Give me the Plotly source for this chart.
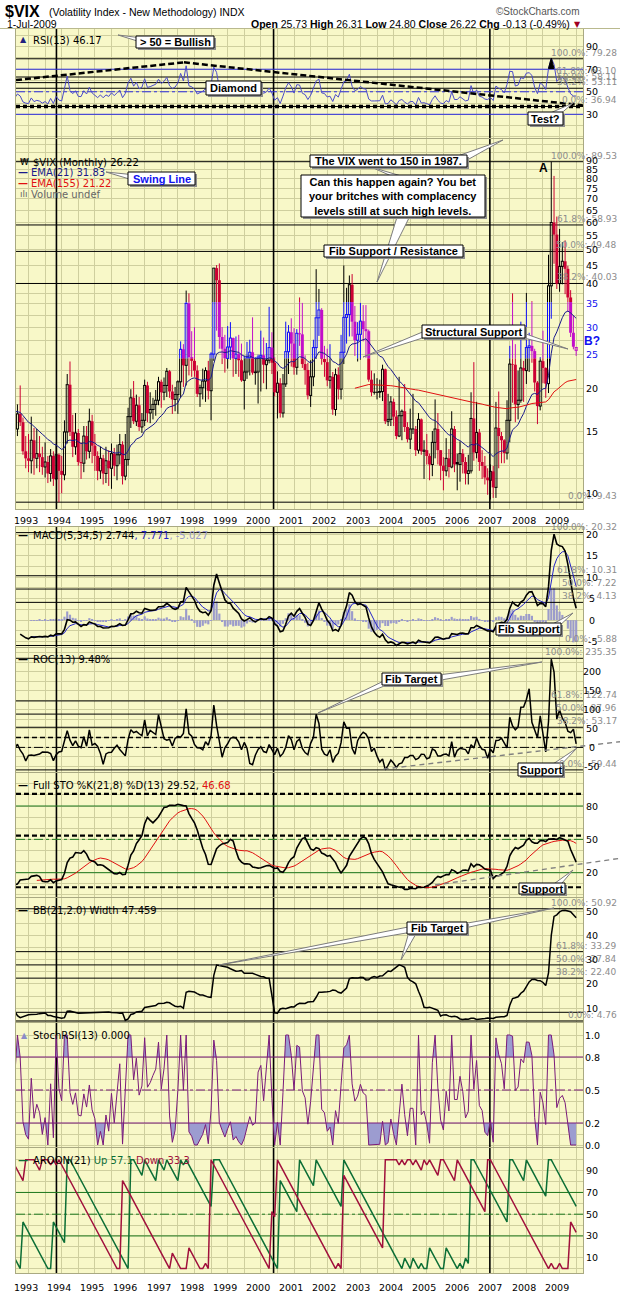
import math
import plotly.graph_objects as go

W, H = 620, 1297

# ---------------------------------------------------------------------------
# Monthly VIX before the visible window (Jan 1990 - Aug 1992); these only feed
# the look-back of the indicators.
prime_close = [25.4, 21.9, 19.5, 21.6, 17.1, 17.4, 23.4, 29.9, 30.0, 27.7, 22.5, 23.0,
               20.1, 17.6, 17.3, 17.9, 15.4, 18.3, 15.7, 15.6, 17.3, 16.0, 19.6, 15.7,
               17.7, 16.0, 16.1, 15.4, 13.6, 14.1, 13.1, 15.3]
prime_high = [27.3, 26.0, 23.0, 24.5, 21.0, 19.0, 23.5, 36.5, 33.0, 38.0, 28.0, 25.0,
              36.2, 21.5, 19.5, 19.8, 18.5, 20.0, 19.0, 18.5, 19.0, 18.0, 22.5, 21.5,
              19.5, 18.0, 17.5, 18.5, 16.0, 15.5, 15.0, 16.5]
prime_low = [17.2, 20.0, 18.5, 18.5, 16.5, 15.5, 16.0, 21.0, 25.0, 25.0, 21.5, 20.5,
             19.5, 16.5, 15.5, 15.5, 14.5, 14.8, 15.0, 13.5, 14.5, 14.5, 15.5, 14.5,
             15.0, 15.0, 14.5, 14.0, 13.0, 12.5, 11.8, 13.0]

# Displayed monthly bars, Sep 1992 - Jul 2009
vix_open = [15.3, 16.9, 16.0, 13.2,
            12.6, 12.4, 14.2, 12.6, 13.0, 12.7, 11.9, 12.3, 11.4, 12.8, 11.0, 12.9,
            11.6, 11.3, 15.0, 20.5, 15.0, 13.6, 14.9, 12.3, 12.2, 14.6, 13.2, 16.1,
            13.7, 12.8, 11.6, 12.6, 11.4, 12.4, 11.8, 13.0, 12.0, 12.9, 13.8, 11.2,
            12.5, 16.6, 18.8, 16.1, 17.9, 15.5, 16.2, 20.4, 17.0, 17.4, 18.0, 18.5,
            20.9, 19.5, 20.4, 22.4, 19.6, 18.6, 19.2, 20.9, 25.9, 23.3, 35.1, 24.6,
            24.0, 22.5, 19.3, 20.1, 21.0, 22.5, 19.7, 25.1, 44.3, 40.9, 28.1, 26.0,
            24.4, 26.3, 27.9, 24.4, 25.1, 24.1, 21.1, 22.3, 24.5, 25.4, 22.2, 22.3,
            24.6, 24.9, 23.4, 24.1, 26.2, 23.7, 19.5, 20.7, 17.0, 20.6, 25.5, 29.0,
            26.9, 23.0, 28.8, 28.6, 23.5, 22.6, 19.1, 21.6, 26.2, 31.9, 33.6, 24.3,
            23.8, 21.1, 21.6, 17.4, 21.9, 19.9, 25.4, 32.0, 32.6, 39.7, 31.1, 27.5,
            28.6, 31.2, 29.6, 29.2, 21.2, 19.5, 19.5, 19.5, 19.6, 22.7, 16.1, 16.3,
            18.3, 16.6, 14.6, 16.7, 17.2, 15.5, 14.3, 15.3, 15.3, 13.3, 16.3, 13.2,
            13.3, 12.8, 12.1, 14.0, 15.3, 13.3, 12.0, 11.6, 12.6, 11.9, 15.3, 12.3,
            12.1, 13.0, 12.3, 11.4, 11.6, 16.4, 13.1, 14.95, 12.3, 11.98, 11.1, 10.9,
            11.56, 10.4, 15.4, 14.6, 14.2, 13.05, 16.2, 23.5, 23.4, 18.0, 18.5, 22.9,
            22.5, 26.2, 26.5, 25.6, 20.8, 17.8, 23.95, 22.9, 20.65, 39.4, 59.9, 55.3,
            40.0, 44.8, 46.35, 44.1, 36.5, 28.9, 25.73]
vix_high = [18.0, 20.4, 16.5, 14.6,
            14.8, 16.6, 15.4, 15.3, 14.6, 13.6, 14.0, 12.8, 13.4, 13.2, 13.9, 13.0,
            12.8, 16.2, 22.0, 23.9, 16.8, 17.0, 15.3, 14.0, 15.6, 15.6, 17.5, 16.8,
            14.8, 13.2, 13.6, 12.9, 13.6, 13.3, 13.9, 13.5, 13.8, 14.8, 14.1, 14.8,
            17.6, 19.9, 21.0, 19.2, 18.9, 17.0, 21.2, 20.9, 19.5, 18.8, 19.8, 21.6,
            21.2, 21.5, 22.9, 22.6, 20.5, 20.2, 21.1, 27.3, 26.8, 38.2, 37.5, 29.2,
            30.0, 23.3, 20.5, 22.8, 23.0, 24.0, 25.4, 44.3, 45.2, 45.7, 30.0, 28.5,
            30.2, 31.0, 28.0, 28.2, 28.5, 26.9, 24.8, 27.2, 27.6, 32.0, 24.6, 25.0,
            29.3, 28.0, 27.0, 34.3, 29.0, 24.6, 22.4, 21.4, 22.0, 31.1, 30.4, 31.8,
            29.8, 29.6, 36.5, 35.2, 24.9, 23.7, 24.1, 27.6, 44.0, 38.6, 34.0, 26.5,
            26.0, 26.8, 22.3, 22.8, 23.0, 28.5, 45.1, 38.9, 42.2, 42.6, 34.5, 31.0,
            35.2, 34.7, 34.7, 29.5, 22.5, 22.1, 21.4, 21.2, 23.4, 22.8, 19.3, 19.0,
            18.7, 17.3, 21.6, 17.4, 20.6, 16.0, 17.5, 19.3, 15.6, 17.0, 16.4, 14.2,
            14.8, 13.0, 15.1, 18.6, 17.0, 13.3, 12.7, 14.4, 13.4, 17.2, 15.6, 13.0,
            14.1, 13.4, 12.7, 12.9, 19.5, 23.8, 18.3, 15.3, 13.3, 12.8, 11.8, 12.1,
            12.0, 18.3, 19.6, 15.0, 14.3, 18.5, 26.5, 37.5, 26.8, 22.5, 31.1, 24.0,
            37.6, 28.9, 35.6, 26.0, 21.0, 24.6, 29.3, 23.0, 48.4, 89.53, 81.5, 62.3,
            57.4, 52.6, 53.25, 45.0, 38.3, 32.4, 26.31]
vix_low = [14.6, 15.6, 12.9, 11.8,
           11.5, 11.4, 11.3, 11.8, 11.5, 11.3, 11.1, 10.7, 10.8, 10.5, 10.9, 9.43,
           10.0, 10.9, 13.9, 14.6, 12.7, 12.9, 12.0, 11.0, 11.5, 12.5, 12.6, 12.2,
           11.6, 10.9, 11.0, 10.6, 10.7, 10.5, 10.3, 11.2, 10.9, 12.1, 10.6, 10.9,
           12.0, 15.4, 15.8, 15.6, 15.1, 14.9, 15.6, 16.0, 15.9, 16.3, 16.7, 17.9,
           17.6, 18.5, 18.9, 18.8, 16.9, 17.2, 16.9, 18.8, 20.2, 20.4, 21.8, 21.6,
           21.6, 18.9, 17.7, 18.6, 18.3, 18.6, 16.2, 24.0, 29.3, 26.0, 23.5, 22.2,
           22.8, 24.2, 21.6, 22.0, 21.6, 20.9, 17.4, 21.3, 21.8, 21.9, 20.5, 18.1,
           19.6, 20.7, 19.9, 23.6, 22.0, 19.0, 16.4, 16.5, 16.5, 20.2, 22.0, 23.1,
           21.9, 21.9, 26.5, 22.9, 20.5, 18.6, 17.7, 20.3, 24.3, 28.3, 23.4, 21.6,
           20.3, 20.0, 16.8, 16.7, 18.6, 18.6, 23.5, 26.9, 28.2, 28.2, 24.8, 23.9,
           24.2, 27.3, 24.5, 20.9, 19.0, 19.2, 18.6, 18.8, 18.4, 15.8, 15.6, 15.6,
           15.6, 14.3, 14.5, 14.2, 15.0, 14.0, 13.4, 14.8, 12.8, 13.0, 12.9, 11.0,
           12.1, 10.9, 11.2, 12.6, 12.1, 10.9, 10.2, 11.2, 11.1, 11.8, 11.5, 10.2,
           10.8, 11.4, 10.6, 10.6, 11.4, 12.4, 12.6, 11.6, 11.0, 10.6, 9.9, 9.6,
           9.7, 9.7, 11.8, 12.2, 12.2, 12.5, 14.0, 18.2, 16.0, 16.3, 18.2, 18.3,
           20.6, 22.3, 23.7, 19.6, 15.8, 17.3, 20.7, 18.8, 19.4, 31.7, 45.6, 38.6,
           37.9, 39.8, 37.3, 33.2, 28.1, 25.9, 24.80]
vix_close = [16.9, 16.0, 13.2, 12.6,
             12.4, 14.2, 12.6, 13.0, 12.7, 11.9, 12.3, 11.4, 12.8, 11.0, 12.9, 11.6,
             11.3, 15.0, 20.5, 15.0, 13.6, 14.9, 12.3, 12.2, 14.6, 13.2, 16.1, 13.7,
             12.8, 11.6, 12.6, 11.4, 12.4, 11.8, 13.0, 12.0, 12.9, 13.8, 11.2, 12.5,
             16.6, 18.8, 16.1, 17.9, 15.5, 16.2, 20.4, 17.0, 17.4, 18.0, 18.5, 20.9,
             19.5, 20.4, 22.4, 19.6, 18.6, 19.2, 20.9, 25.9, 23.3, 35.1, 24.6, 24.0,
             22.5, 19.3, 20.1, 21.0, 22.5, 19.7, 25.1, 44.3, 40.9, 28.1, 26.0, 24.4,
             26.3, 27.9, 24.4, 25.1, 24.1, 21.1, 22.3, 24.5, 25.4, 22.2, 22.3, 24.6,
             24.9, 23.4, 24.1, 26.2, 23.7, 19.5, 20.7, 17.0, 20.6, 25.5, 29.0, 26.9,
             23.0, 28.8, 28.6, 23.5, 22.6, 19.1, 21.6, 26.2, 31.9, 33.6, 24.3, 23.8,
             21.1, 21.6, 17.4, 21.9, 19.9, 25.4, 32.0, 32.6, 39.7, 31.1, 27.5, 28.6,
             31.2, 29.6, 29.2, 21.2, 19.5, 19.5, 19.5, 19.6, 22.7, 16.1, 16.3, 18.3,
             16.6, 14.6, 16.7, 17.2, 15.5, 14.3, 15.3, 15.3, 13.3, 16.3, 13.2, 13.3,
             12.8, 12.1, 14.0, 15.3, 13.3, 12.0, 11.6, 12.6, 11.9, 15.3, 12.1, 12.1,
             13.0, 12.3, 11.4, 11.6, 16.4, 13.1, 14.95, 12.3, 11.98, 11.1, 10.9, 11.56,
             10.4, 15.4, 14.6, 14.2, 13.05, 16.2, 23.5, 23.4, 18.0, 18.5, 22.9, 22.5,
             26.2, 26.5, 25.6, 20.8, 17.8, 23.95, 22.9, 20.65, 39.4, 59.9, 55.3, 40.0,
             44.8, 46.35, 44.1, 36.5, 28.9, 26.35, 26.22]
FIRST_BAR = -4          # Sep 1992, in months counted from Jan 1993

years = list(range(1993, 2010))
band_low, band_high = 24.4, 35.4          # highlighted "structural support" zone

fib_main = (9.43, 89.53)
fib_rsi = (36.938, 79.276)
fib_macd = (-5.88, 20.32)
fib_roc = (-59.44, 235.352)
fib_bb = (4.764, 50.922)
fib_ratios = [1.0, 0.618, 0.5, 0.382, 0.0]

event_months = [10.1, 88.6, 166.8]        # vertical marker lines

# ---------------------------------------------------------------------------
closes = prime_close + vix_close
highs = prime_high + vix_high
lows = prime_low + vix_low
N = len(closes)
months = [i - len(prime_close) + FIRST_BAR for i in range(N)]


def sma(vals, n):
    out = [None] * len(vals)
    for i in range(len(vals)):
        win = vals[i - n + 1:i + 1] if i >= n - 1 else []
        if len(win) == n and all(v is not None for v in win):
            out[i] = sum(win) / n
    return out


def ema(vals, n):
    out = [None] * len(vals)
    k = 2.0 / (n + 1)
    run, prev = [], None
    for i, v in enumerate(vals):
        if v is None:
            continue
        if prev is None:
            run.append(v)
            if len(run) == n:
                prev = sum(run) / n
                out[i] = prev
        else:
            prev = prev + k * (v - prev)
            out[i] = prev
    return out


def rsi(c, n):
    out = [None] * len(c)
    g_run, l_run = [], []
    ag = al = None
    for i in range(1, len(c)):
        d = c[i] - c[i - 1]
        g, l = max(d, 0.0), max(-d, 0.0)
        if ag is None:
            g_run.append(g)
            l_run.append(l)
            if len(g_run) == n:
                ag, al = sum(g_run) / n, sum(l_run) / n
            else:
                continue
        else:
            ag = (ag * (n - 1) + g) / n
            al = (al * (n - 1) + l) / n
        out[i] = 100.0 if al == 0 else 100 - 100 / (1 + ag / al)
    return out


ema21 = ema(closes, 21)
ema155 = ema(closes, 155)
rsi13 = rsi(closes, 13)

srsi = [None] * N
for i in range(N):
    win = rsi13[i - 12:i + 1] if i >= 12 else []
    if len(win) == 13 and all(v is not None for v in win):
        lo, hi = min(win), max(win)
        srsi[i] = 0.0 if hi == lo else (rsi13[i] - lo) / (hi - lo)

e5, e34 = ema(closes, 5), ema(closes, 34)
macd = [a - b if (a is not None and b is not None) else None for a, b in zip(e5, e34)]
macd_sig = ema(macd, 5)
macd_hist = [a - b if (a is not None and b is not None) else None for a, b in zip(macd, macd_sig)]

roc = [None] * N
for i in range(13, N):
    roc[i] = (closes[i] / closes[i - 13] - 1) * 100

fast_k = [None] * N
for i in range(20, N):
    hh, ll = max(highs[i - 20:i + 1]), min(lows[i - 20:i + 1])
    fast_k[i] = 0.0 if hh == ll else (closes[i] - ll) / (hh - ll) * 100
full_k = sma(fast_k, 8)
full_d = sma(full_k, 13)

# band width in points: upper band minus lower band
bbw = [None] * N
for i in range(20, N):
    win = closes[i - 20:i + 1]
    mu = sum(win) / 21
    sd = math.sqrt(sum((v - mu) ** 2 for v in win) / 21)
    bbw[i] = 4 * sd

ar_up, ar_dn = [None] * N, [None] * N
for i in range(21, N):
    hw = highs[i - 21:i + 1]
    lw = lows[i - 21:i + 1]
    ih = max(j for j in range(22) if hw[j] == max(hw))
    il = max(j for j in range(22) if lw[j] == min(lw))
    ar_up[i] = ih / 21 * 100
    ar_dn[i] = il / 21 * 100

# ---------------------------------------------------------------------------
BG = "#F8F8C8"
GRID = "#CFCF9E"
FRAME = "#A9A982"
BAND = "#F6F632"
FONT = "DejaVu Sans"
SANS = "Liberation Sans"

PX_PER_MONTH = 2.766
X_LEFT, X_RIGHT = 16, 583
M0_PX = 28.5
x_range = [(X_LEFT - M0_PX) / PX_PER_MONTH, (X_RIGHT - M0_PX) / PX_PER_MONTH]

# panel: top, bottom, two calibration (value, pixel) pairs, log scale
panels = {
    1: (29, 138, (90, 46.7), (30, 114.3), False),
    2: (139, 509, (10, 493.3), (89.53, 161.7), True),
    3: (527, 647, (20, 534.0), (-5, 641.7), False),
    4: (648, 772, (235.35, 658.3), (0, 747.4), False),
    5: (773, 897, (80, 806.0), (20, 872.7), False),
    6: (898, 1022, (50, 911.0), (10, 1008.3), False),
    7: (1023, 1147, (1.0, 1035.0), (0.0, 1145.0), False),
    8: (1148, 1273, (90, 1170.7), (10, 1257.7), False),
}


def X(p):
    return p / W


def Y(p):
    return 1 - p / H


def yv(k, v):
    return math.log10(v) if panels[k][4] else v


layout = dict(width=W, height=H, margin=dict(l=0, r=0, t=0, b=0),
              paper_bgcolor="white", plot_bgcolor=BG, showlegend=False,
              hovermode=False)

grid_vals = {
    1: list(range(10, 101, 10)),
    2: [9, 10, 11, 12, 13, 14, 15, 16, 17, 18, 19, 20, 22.5, 25, 27.5, 30, 32.5, 35,
        37.5, 40, 45, 50, 55, 60, 65, 70, 75, 80, 85, 90, 95, 100],
    3: [v * 2.5 for v in range(-2, 9)],
    4: list(range(-50, 251, 25)),
    5: list(range(0, 101, 10)),
    6: list(range(5, 56, 5)),
    7: [v / 10 for v in range(0, 11)],
    8: list(range(0, 101, 10)),
}

y_span = {}
for k, (top, bot, (v1, p1), (v2, p2), is_log) in panels.items():
    f1, f2 = (math.log10(v1), math.log10(v2)) if is_log else (v1, v2)
    slope = (f1 - f2) / (p1 - p2)
    r_top = f1 + (top - p1) * slope
    r_bot = f1 + (bot - p1) * slope
    y_span[k] = (10 ** r_bot, 10 ** r_top) if is_log else (r_bot, r_top)
    sfx = "" if k == 1 else str(k)
    layout["xaxis" + sfx] = dict(domain=[X(X_LEFT), X(X_RIGHT)], range=x_range,
                                 anchor="y" + sfx, tickmode="array",
                                 tickvals=list(range(-6, 204, 6)), showticklabels=False,
                                 ticks="", showgrid=True, gridcolor=GRID, gridwidth=1,
                                 zeroline=False, showline=True, mirror=True,
                                 linecolor=FRAME, linewidth=1, fixedrange=True)
    layout["yaxis" + sfx] = dict(domain=[Y(bot), Y(top)], range=[r_bot, r_top],
                                 type="log" if is_log else "linear",
                                 anchor="x" + sfx, tickmode="array", tickvals=grid_vals[k],
                                 showticklabels=False, ticks="", showgrid=True,
                                 gridcolor=GRID, gridwidth=1, zeroline=False,
                                 showline=True, mirror=True, linecolor=FRAME,
                                 linewidth=1, fixedrange=True)

shapes, annotations, wedges, boxes = [], [], [], []
traces = []


def ax(k):
    return ("x", "y") if k == 1 else ("x%d" % k, "y%d" % k)


# event marker lines first, so every other mark sits on top of them
for k in panels:
    xa, ya = ax(k)
    ex, ey = [], []
    for m in event_months:
        ex += [m, m, None]
        ey += [y_span[k][0], y_span[k][1], None]
    traces.append(go.Scatter(x=ex, y=ey, mode="lines", xaxis=xa, yaxis=ya,
                             line=dict(color="black", width=1.6)))


def hline(k, v, color="black", width=1, dash="solid"):
    xa, ya = ax(k)
    traces.append(go.Scatter(x=x_range, y=[v, v], mode="lines", xaxis=xa, yaxis=ya,
                             line=dict(color=color, width=width, dash=dash)))


def text(x, y, s, size=10, color="black", anchor="left", family=FONT, **kw):
    annotations.append(dict(x=X(x), y=Y(y), xref="paper", yref="paper", text=s,
                            showarrow=False, xanchor=anchor, yanchor="middle",
                            font=dict(family=family, size=size, color=color), **kw))


def axis_label(k, v, s=None, color="black"):
    xa, ya = ax(k)
    annotations.append(dict(x=X(592), y=yv(k, v), xref="paper", yref=ya,
                            text=s if s is not None else str(v), showarrow=False,
                            xanchor="center", yanchor="middle",
                            font=dict(family=FONT, size=9.5, color=color)))


def fib(k, lo, hi):
    xa, ya = ax(k)
    for r in fib_ratios:
        lvl = lo + r * (hi - lo)
        hline(k, lvl, "black", 1)
        annotations.append(dict(x=X(619), y=yv(k, lvl), xref="paper", yref=ya,
                                text="%.1f%%: %.2f" % (r * 100, lvl), showarrow=False,
                                xanchor="right", yanchor="middle", yshift=6,
                                font=dict(family=FONT, size=9, color="#8C8C8C")))


def line_trace(k, ys, color, width=1.0, dash="solid"):
    xa, ya = ax(k)
    pts = [(m, v) for m, v in zip(months, ys) if v is not None]
    traces.append(go.Scatter(x=[p[0] for p in pts], y=[p[1] for p in pts],
                             mode="lines", xaxis=xa, yaxis=ya,
                             line=dict(color=color, width=width, dash=dash)))


def callout(box, lines, tips, color="black", size=11):
    x0, y0, x1, y1 = box
    for b0, b1, tip in tips:
        path = "M %f,%f L %f,%f L %f,%f Z" % (X(b0[0]), Y(b0[1]), X(tip[0]), Y(tip[1]),
                                              X(b1[0]), Y(b1[1]))
        wedges.append(dict(type="path", xref="paper", yref="paper", path=path,
                           fillcolor="white", layer="above",
                           line=dict(color="#7C7C7C", width=1)))
    boxes.append(dict(type="rect", xref="paper", yref="paper", x0=X(x0 + 2), x1=X(x1 + 2),
                      y0=Y(y1 + 2), y1=Y(y0 + 2), fillcolor="#8E8E8E", layer="above",
                      line=dict(width=0)))
    boxes.append(dict(type="rect", xref="paper", yref="paper", x0=X(x0), x1=X(x1),
                      y0=Y(y1), y1=Y(y0), fillcolor="white", layer="above",
                      line=dict(color="black", width=1)))
    text((x0 + x1) / 2, (y0 + y1) / 2, "<br>".join("<b>%s</b>" % s for s in lines),
         size=size, color=color, anchor="center", family=SANS)


# ---------------------------------------------------------------------------
# Header
text(3, 11, "<b>$VIX</b>", size=16, family=SANS)
text(47, 12, "(Volatility Index - New Methodology) INDX", size=10.5, family=SANS)
text(582, 11, "©StockCharts.com", size=10, color="#555555", anchor="right", family=SANS)
text(5, 24, "1-Jul-2009", size=10.5, family=SANS)
text(572, 24, "<b>Open</b> 25.73 <b>High</b> 26.31 <b>Low</b> 24.80 "
              "<b>Close</b> 26.22 <b>Chg</b> -0.13 (-0.49%)", size=10.5,
     anchor="right", family=SANS)
text(577, 24, "▼", size=8, color="#A00020", anchor="center")
shapes.append(dict(type="line", xref="paper", yref="paper", x0=0, x1=1, y0=Y(28.5),
                   y1=Y(28.5), layer="above", line=dict(color="#B9B98E", width=1)))

# ---------------------------------------------------------------------------
# Panel 1: RSI
hline(1, 70, "#2B2BE0", 1)
hline(1, 30, "#2B2BE0", 1)
hline(1, 50, "#2B2BE0", 1, dash="dashdot")
fib(1, *fib_rsi)
line_trace(1, rsi13, "#4B4BC8", 1)
hline(1, fib_rsi[0], "black", 3.5, dash="4px,3px")
# trend lines: (month, RSI) anchor points
rsi_trend = [(-4.52, 60.4), (56.2, 76.1), (200.47, 37.9)]
for (ma, va), (mb, vb) in zip(rsi_trend[:-1], rsi_trend[1:]):
    shapes.append(dict(type="line", xref="x", yref="y", x0=ma, x1=mb, y0=va, y1=vb,
                       layer="above", line=dict(color="black", width=2.5, dash="6px,3px")))
shapes.append(dict(type="path", xref="paper", yref="paper", layer="above",
                   path="M %f,%f L %f,%f L %f,%f Z" % (X(548.5), Y(68.5), X(551.3), Y(58),
                                                       X(554), Y(68.5)),
                   fillcolor="black", line=dict(color="black", width=1)))
for v in (90, 70, 50, 30):
    axis_label(1, v)
text(23, 40, "▲", size=8, color="#202080", anchor="center")
text(31, 41, "RSI(13) 46.17", size=10)

# ---------------------------------------------------------------------------
# Panel 2: price candles
shapes.append(dict(type="rect", xref="x2 domain", yref="y2", x0=0, x1=1,
                   y0=math.log10(band_low), y1=math.log10(band_high), fillcolor=BAND,
                   line=dict(width=0), layer="below"))
fib(2, *fib_main)

ink = {"up": "#000000", "down": "#CC0033"}
ink_band = {"up": "#0E0EFA", "down": "#C20EC9"}
thin, thick = {}, {}
hw = 1.0 / PX_PER_MONTH
edge = 1.5 / PX_PER_MONTH


def pieces(a, b):
    cuts = [a] + [v for v in (band_low, band_high) if a < v < b] + [b]
    return [(lo, hi, band_low <= (lo + hi) / 2 <= band_high)
            for lo, hi in zip(cuts[:-1], cuts[1:])]


def seg(store, color, x0, y0, x1, y1):
    xs, ys = store.setdefault(color, ([], []))
    xs += [x0, x1, None]
    ys += [y0, y1, None]


start = len(prime_close)
for j in range(len(vix_close)):
    i = start + j
    m = months[i]
    o, h, l, c = vix_open[j], vix_high[j], vix_low[j], vix_close[j]
    kind = "up" if c >= closes[i - 1] else "down"

    def col(inb):
        return ink_band[kind] if inb else ink[kind]

    lo_b, hi_b = min(o, c), max(o, c)
    if c > o:
        for a, b in ((l, lo_b), (hi_b, h)):
            if b > a:
                for p0, p1, inb in pieces(a, b):
                    seg(thin, col(inb), m, p0, m, p1)
        for p0, p1, inb in pieces(lo_b, hi_b):
            seg(thin, col(inb), m - hw, p0, m - hw, p1)
            seg(thin, col(inb), m + hw, p0, m + hw, p1)
        for v in (lo_b, hi_b):
            seg(thin, col(band_low <= v <= band_high), m - edge, v, m + edge, v)
    else:
        for p0, p1, inb in pieces(l, h):
            seg(thin, col(inb), m, p0, m, p1)
        if hi_b - lo_b < 0.02:
            seg(thin, col(band_low <= lo_b <= band_high), m - edge, lo_b, m + edge, lo_b)
        else:
            for p0, p1, inb in pieces(lo_b, hi_b):
                seg(thick, col(inb), m, p0, m, p1)

for color, (xs, ys) in thin.items():
    traces.append(go.Scatter(x=xs, y=ys, mode="lines", xaxis="x2", yaxis="y2",
                             line=dict(color=color, width=1)))
for color, (xs, ys) in thick.items():
    traces.append(go.Scatter(x=xs, y=ys, mode="lines", xaxis="x2", yaxis="y2",
                             line=dict(color=color, width=3)))
line_trace(2, ema21, "#1A1A8C", 1)
line_trace(2, ema155, "#E01010", 1)

for v in range(10, 95, 5):
    if v in (25, 30, 35):
        continue
    axis_label(2, v)
for v in (25, 30, 35):
    axis_label(2, v, color="#1010F0")
text(592, 341, "<b>B?</b>", size=12, color="#1010F0", anchor="center", family=SANS)
text(543, 168, "<b>A</b>", size=12, anchor="center", family=SANS)

text(24, 162, "₩", size=9, anchor="center")
text(31, 162, "$VIX (Monthly) 26.22", size=10)
text(23, 172.5, "<b>—</b>", size=10, color="#1A1A8C", anchor="center")
text(29, 172.5, "EMA(21) 31.83", size=10, color="#1A1A8C")
text(23, 183.5, "<b>—</b>", size=10, color="#E01010", anchor="center")
text(29, 183.5, "EMA(155) 21.22", size=10, color="#E01010")
text(24, 194, "ılı", size=9, color="#666666", anchor="center")
text(29, 194, "Volume undef", size=10, color="#666666")

# ---------------------------------------------------------------------------
# Panel 3: MACD
mh = [(m, v) for m, v in zip(months, macd_hist) if v is not None]
traces.append(go.Bar(x=[p[0] for p in mh], y=[p[1] for p in mh], width=0.78,
                     xaxis="x3", yaxis="y3", marker=dict(color="#9B9BCB", line=dict(width=0))))
fib(3, *fib_macd)
line_trace(3, macd_sig, "#2424C8", 1)
line_trace(3, macd, "black", 1.6)
for v in (20, 15, 10, 5, 0, -5):
    axis_label(3, v)
text(23, 535, "<b>—</b>", size=10, anchor="center")
text(31, 535, "MACD(5,34,5) 2.744<span style='color:#2424C8'>, 7.771</span>"
              "<span style='color:#9B9BCB'>, -5.027</span>", size=10)

# ---------------------------------------------------------------------------
# Panel 4: ROC
fib(4, *fib_roc)
hline(4, 0, "black", 1, dash="dashdot")
hline(4, 26, "black", 1.6, dash="5px,3px")
line_trace(4, roc, "black", 1.5)
for v in (200, 150, 100, 50, 0, -50):
    axis_label(4, v)
shapes.append(dict(type="line", xref="paper", yref="paper", x0=X(383.6), y0=Y(769),
                   x1=X(620), y1=Y(741.7), layer="above",
                   line=dict(color="#808080", width=1.4, dash="5px,4px")))
text(23, 660, "<b>—</b>", size=10, anchor="center")
text(31, 660, "ROC(13) 9.48%", size=10)

# ---------------------------------------------------------------------------
# Panel 5: Full stochastics
hline(5, 80, "#1E7A1E", 1)
hline(5, 20, "#1E7A1E", 1)
hline(5, 50, "#1E7A1E", 1, dash="dashdot")
for v in (90.9, 53.4, 6.9):
    hline(5, v, "black", 2.2, dash="5px,3px")
line_trace(5, full_d, "#E01010", 1)
line_trace(5, full_k, "black", 1.6)
for v in (80, 50, 20):
    axis_label(5, v)
shapes.append(dict(type="line", xref="paper", yref="paper", x0=X(435), y0=Y(885),
                   x1=X(620), y1=Y(858.3), layer="above",
                   line=dict(color="#808080", width=1.4, dash="5px,4px")))
text(23, 785, "<b>—</b>", size=10, anchor="center")
text(31, 785, "Full STO %K(21,8) %D(13) 29.52, <span style='color:#E01010'>46.68</span>",
     size=10)

# ---------------------------------------------------------------------------
# Panel 6: Bollinger band width
fib(6, *fib_bb)
hline(6, 8.35, "black", 1)
line_trace(6, bbw, "black", 1.5)
for v in (50, 40, 30, 20, 10):
    axis_label(6, v)
text(23, 910, "<b>—</b>", size=10, anchor="center")
text(31, 910, "BB(21,2.0) Width 47.459", size=10)

# ---------------------------------------------------------------------------
# Panel 7: StochRSI
sx = [m for m, v in zip(months, srsi) if v is not None]
sy = [v for v in srsi if v is not None]


def beyond(level, above):
    xs, ys = [], []
    for a in range(len(sx)):
        if a > 0:
            y0, y1 = sy[a - 1], sy[a]
            if (y0 - level) * (y1 - level) < 0:
                t = (level - y0) / (y1 - y0)
                xs.append(sx[a - 1] + t * (sx[a] - sx[a - 1]))
                ys.append(level)
        xs.append(sx[a])
        ys.append(max(sy[a], level) if above else min(sy[a], level))
    return xs + xs[::-1], ys + [level] * len(xs)


for level, above in ((0.8, True), (0.2, False)):
    fx, fy = beyond(level, above)
    traces.append(go.Scatter(x=fx, y=fy, mode="lines", fill="toself",
                             fillcolor="#9C9CD0", line=dict(width=0),
                             xaxis="x7", yaxis="y7"))
hline(7, 0.8, "#7A1A7A", 1.2)
hline(7, 0.2, "#7A1A7A", 1.2)
hline(7, 0.5, "#7A1A7A", 1, dash="dashdot")
line_trace(7, srsi, "#7A1A7A", 1)
for v, s in ((1.0, "1.0"), (0.8, "0.8"), (0.5, "0.5"), (0.2, "0.2"), (0.0, "0.0")):
    axis_label(7, v, s)
text(24, 1035, "▲", size=8, color="#8C8CC8", anchor="center")
text(31, 1035, "StochRSI(13) 0.000", size=10)

# ---------------------------------------------------------------------------
# Panel 8: Aroon
hline(8, 70, "#1E7A1E", 1)
hline(8, 30, "#1E7A1E", 1)
hline(8, 50, "#1E7A1E", 1, dash="dashdot")
line_trace(8, ar_up, "#0C6E36", 1.5)
line_trace(8, ar_dn, "#A0103C", 1.5)
for v in (90, 70, 50, 30, 10):
    axis_label(8, v)
text(23, 1160, "<b>—</b>", size=10, color="#0C6E36", anchor="center")
text(31, 1160, "AROON(21) <span style='color:#0C6E36'>Up 57.1</span> "
               "<span style='color:#A0103C'>Down 33.3</span>", size=10)

# Year labels
for row_y in (520, 1287):
    for yr in years:
        annotations.append(dict(x=(yr - 1993) * 12 - 1, y=Y(row_y), xref="x2",
                                yref="paper", text=str(yr), showarrow=False,
                                xanchor="center", yanchor="middle",
                                font=dict(family=FONT, size=9.5, color="black")))

# ---------------------------------------------------------------------------
# Callout boxes
callout((136, 36, 214, 48), ["> 50 = Bullish"], [((150, 39), (150, 45), (118, 35))])
callout((206, 81, 261, 95), ["Diamond"], [])
callout((528, 112, 563, 125), ["Test?"], [((548, 114), (556, 118), (573, 103))])
callout((128, 172, 195, 185), ["Swing Line"], [((136, 175), (136, 181), (106, 172))],
        color="#1010F0")
callout((310, 155, 467, 167), ["The VIX went to 150 in 1987."],
        [((452, 158), (460, 164), (503, 140))])
callout((301, 175, 485, 217), ["Can this happen again? You bet",
                               "your britches with complacency",
                               "levels still at such high levels."],
        [((396, 178), (408, 178), (371, 167))])
callout((324, 245, 463, 257), ["Fib Support / Resistance"],
        [((398, 214), (411, 214), (377, 282))])
callout((422, 325, 525, 338), ["Structural Support"],
        [((432, 328), (432, 335), (363, 357)), ((512, 329), (512, 335), (568, 349))])
callout((496, 623, 561, 635), ["Fib Support"], [((549, 626), (555, 630), (573, 613))])
callout((382, 673, 441, 685), ["Fib Target"],
        [((394, 676), (394, 682), (318, 713)), ((430, 676), (430, 682), (542, 662))])
callout((518, 763, 563, 776), ["Support"], [((550, 766), (556, 770), (577, 748))])
callout((519, 883, 565, 894), ["Support"], [((551, 886), (557, 889), (573, 870))])
callout((407, 922, 467, 934), ["Fib Target"],
        [((418, 925), (418, 931), (219, 965)), ((409, 932), (417, 932), (401, 960)),
         ((456, 925), (456, 930), (554, 908))])

layout["shapes"] = shapes + wedges + boxes
layout["annotations"] = annotations

fig = go.Figure(data=traces, layout=layout)
fig.write_html("out.html")
